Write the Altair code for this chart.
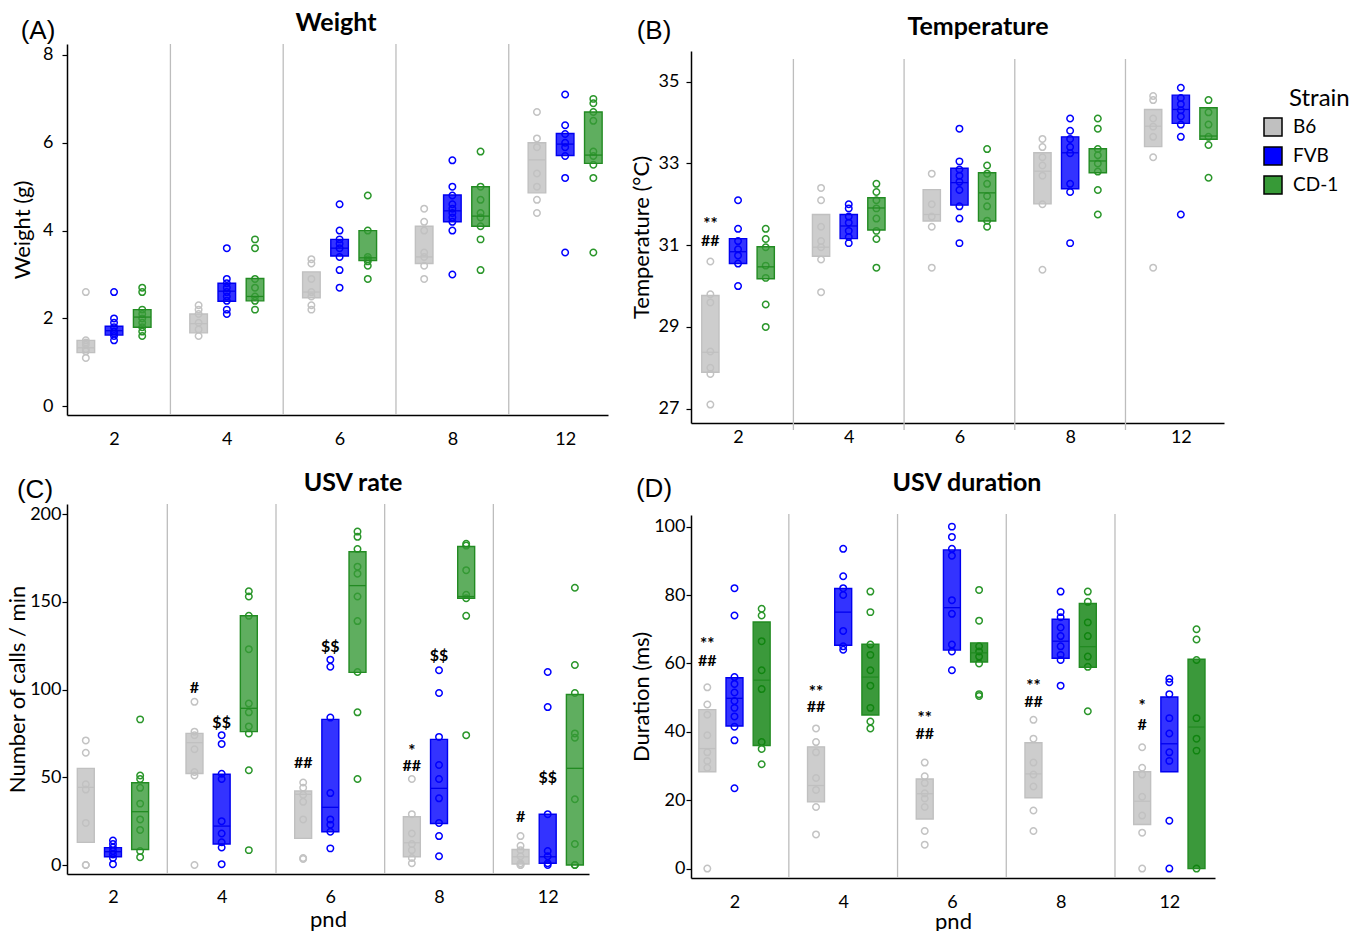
import altair as alt
import pandas as pd

pnd_labels = ["2", "4", "6", "8", "12"]
strains = ["B6", "FVB", "CD-1"]

point_colors = ["#c3c3c3", "#0000ff", "#2a962a"]
box_strokes = ["#c0c0c0", "#0000f0", "#228b22"]
box_fills_light = ["#c0c0c0", "#0000ff", "#379a37"]
box_fills_dark = ["#c0c0c0", "#0000ff", "#0a800a"]

# ---------------- Weight ----------------
w_box = {
    "B6": [(1.22, 1.33, 1.50), (1.67, 1.88, 2.10), (2.47, 2.60, 3.06), (3.25, 3.40, 4.10), (4.86, 5.61, 6.00)],
    "FVB": [(1.62, 1.72, 1.82), (2.39, 2.62, 2.80), (3.42, 3.60, 3.80), (4.20, 4.45, 4.81), (5.71, 5.97, 6.21)],
    "CD-1": [(1.80, 2.03, 2.20), (2.40, 2.50, 2.91), (3.32, 3.38, 4.00), (4.10, 4.33, 5.00), (5.53, 5.72, 6.70)],
}
w_pts = {
    "B6": [[2.6, 1.5, 1.45, 1.4, 1.3, 1.25, 1.1], [2.3, 2.2, 2.1, 1.9, 1.75, 1.6],
           [3.35, 3.25, 2.9, 2.6, 2.5, 2.3, 2.2], [4.5, 4.2, 4.0, 3.5, 3.4, 3.2, 2.9],
           [6.7, 6.1, 5.9, 5.3, 5.0, 4.7, 4.4]],
    "FVB": [[2.6, 2.0, 1.9, 1.8, 1.7, 1.65, 1.6, 1.5], [3.6, 2.9, 2.8, 2.7, 2.6, 2.5, 2.4, 2.2, 2.1],
            [4.6, 4.0, 3.8, 3.7, 3.6, 3.4, 3.1, 2.7], [5.6, 5.0, 4.8, 4.6, 4.5, 4.4, 4.3, 4.2, 4.0, 3.0],
            [7.1, 6.4, 6.2, 6.0, 5.9, 5.7, 5.2, 3.5]],
    "CD-1": [[2.7, 2.6, 2.2, 2.1, 2.0, 1.9, 1.8, 1.7, 1.6], [3.8, 3.6, 2.9, 2.7, 2.5, 2.4, 2.2],
             [4.8, 4.0, 3.4, 3.35, 3.3, 3.2, 2.9], [5.8, 5.0, 4.7, 4.4, 4.3, 4.1, 3.8, 3.1],
             [7.0, 6.9, 6.7, 6.5, 5.8, 5.7, 5.5, 5.2, 3.5]],
}

# ---------------- Temperature ----------------
t_box = {
    "B6": [(27.89, 28.38, 29.77), (30.73, 30.95, 31.75), (31.59, 31.75, 32.36), (32.01, 32.81, 33.26), (33.41, 33.91, 34.32)],
    "FVB": [(30.55, 30.84, 31.16), (31.16, 31.47, 31.75), (31.98, 32.53, 32.88), (32.38, 33.26, 33.65), (33.98, 34.32, 34.67)],
    "CD-1": [(30.18, 30.47, 30.96), (31.37, 31.91, 32.16), (31.59, 32.28, 32.77), (32.77, 33.06, 33.36), (33.59, 33.67, 34.36)],
}
t_pts = {
    "B6": [[30.6, 29.8, 29.6, 28.4, 28.0, 27.85, 27.1], [32.4, 32.1, 31.45, 31.1, 30.95, 30.65, 29.85],
           [32.75, 32.0, 31.7, 31.45, 30.45], [33.6, 33.4, 33.15, 32.95, 32.7, 32.0, 30.4],
           [34.65, 34.55, 34.1, 33.9, 33.65, 33.15, 30.45]],
    "FVB": [[32.1, 31.4, 31.1, 30.9, 30.75, 30.55, 30.0], [32.0, 31.9, 31.7, 31.55, 31.35, 31.2, 31.05],
            [33.85, 33.05, 32.85, 32.7, 32.55, 32.35, 31.95, 31.65, 31.05],
            [34.1, 33.8, 33.6, 33.4, 33.25, 32.5, 32.3, 31.05],
            [34.85, 34.6, 34.45, 34.3, 34.15, 33.95, 33.65, 31.75]],
    "CD-1": [[31.4, 31.15, 30.95, 30.5, 30.2, 29.55, 29.0], [32.5, 32.3, 32.1, 31.9, 31.65, 31.35, 31.15, 30.45],
             [33.35, 32.95, 32.75, 32.5, 32.2, 31.95, 31.6, 31.45],
             [34.1, 33.85, 33.35, 33.2, 33.0, 32.8, 32.35, 31.75],
             [34.55, 34.25, 33.95, 33.65, 33.45, 32.65]],
}
t_ann_pnd = [1, 1]
t_ann_strain = [0, 0]
t_ann_y = [31.59, 31.1]
t_ann_text = ["**", "##"]

# ---------------- USV rate ----------------
r_box = {
    "B6": [(12.9, 44.3, 55.1), (52.2, 69.7, 75.0), (15.2, 40.3, 42.2), (4.7, 12.7, 27.5), (0.6, 4.7, 8.9)],
    "FVB": [(4.7, 7.6, 9.9), (12.0, 22.2, 51.7), (19.0, 32.9, 83.0), (23.7, 43.7, 71.6), (1.0, 4.7, 28.9)],
    "CD-1": [(8.9, 30.4, 46.9), (76.0, 89.3, 142.0), (109.8, 159.2, 178.5), (152.0, 153.0, 181.5), (0.0, 55.1, 97.2)],
}
r_pts = {
    "B6": [[71, 64, 46, 43, 24, 0, 0], [93, 76, 74, 66, 53, 51, 0], [47, 44, 40, 36, 26, 4, 3.5],
           [49, 29, 18, 12, 8.5, 4, 1], [16.5, 11, 8.5, 5, 1, 0, 0]],
    "FVB": [[14, 12, 10, 8, 6, 4, 0.5], [74, 69, 52, 49, 25, 18, 13, 10, 0.5], [117, 113, 84, 41, 26, 23, 19, 9.5],
            [111, 98, 73, 57, 49, 38, 24, 16.5, 5], [110, 90, 29, 8, 5, 1, 0]],
    "CD-1": [[83, 51, 49, 44, 35, 26, 20, 8, 4.5], [156, 153, 142, 123, 92, 87, 79, 75, 54, 8.5],
             [190, 187, 180, 170, 166, 153, 139, 110, 87, 49], [183, 182, 168, 154, 152, 142, 74],
             [158, 114, 98, 75, 72.5, 37.5, 12, 0, 0]],
}
r_ann_pnd = [2, 2, 3, 3, 4, 4, 4, 5, 5]
r_ann_strain = [0, 1, 0, 1, 0, 0, 1, 0, 1]
r_ann_y = [100.7, 81.1, 58.0, 124.0, 66.5, 56.4, 119.0, 27.5, 49.4]
r_ann_text = ["#", "$$", "##", "$$", "*", "##", "$$", "#", "$$"]

# ---------------- USV duration ----------------
d_box = {
    "B6": [(28.3, 35.1, 46.5), (19.5, 24.3, 35.6), (14.5, 21.9, 26.2), (20.7, 27.7, 36.8), (12.9, 19.7, 28.3)],
    "FVB": [(41.7, 49.8, 55.8), (65.3, 75.0, 81.9), (63.9, 76.3, 93.2), (61.5, 66.5, 72.9), (28.3, 36.5, 50.2)],
    "CD-1": [(36.0, 55.1, 72.1), (44.9, 56.0, 65.6), (60.4, 63.1, 66.0), (58.9, 64.9, 77.5), (0.0, 41.4, 61.2)],
}
d_pts = {
    "B6": [[53, 48, 45, 39, 34, 31.5, 29.5, 0], [41, 37, 34, 26.5, 23, 18, 10], [31, 27, 25, 22, 20.5, 18, 11, 7],
           [43.5, 38, 31, 27.5, 24, 17, 11], [35.5, 29.5, 27.5, 21, 15.5, 10.5, 0]],
    "FVB": [[82, 74, 56, 54, 51.5, 49, 47, 44.5, 41.5, 37.5, 23.5], [93.5, 85.5, 82, 80, 69.5, 65, 64],
            [100, 97, 93.5, 91.5, 78.5, 74.5, 65.5, 63.5, 58], [81, 75, 73.5, 70.5, 68, 65, 62.5, 61, 53.5],
            [55.5, 54.5, 51, 44, 39.5, 34, 31.5, 14, 0]],
    "CD-1": [[76, 74, 66.5, 58, 52.5, 37, 35, 30.5], [81, 75, 65.5, 62.5, 58, 53.5, 47, 43, 41],
             [81.5, 72.5, 65, 63.5, 62, 60, 51, 50.5], [81, 78, 72, 68, 62, 59, 46],
             [70, 67, 61, 44, 38, 34.5, 0]],
}
d_ann_pnd = [1, 1, 2, 2, 3, 3, 4, 4, 5, 5]
d_ann_strain = [0] * 10
d_ann_y = [66.5, 60.7, 52.6, 47.2, 44.9, 39.4, 54.3, 48.8, 48.3, 42.1]
d_ann_text = ["**", "##", "**", "##", "**", "##", "**", "##", "*", "#"]

dividers = [1.5, 2.5, 3.5, 4.5]

FONT = "Lato"
LETTER_FONT = "Liberation Sans"
label_expr = "[" + ",".join("'%s'" % s for s in pnd_labels) + "][datum.value - 1]"


def frames(pts, box, ann=None):
    prow, brow = [], []
    for si, s in enumerate(strains):
        for pi in range(5):
            for v in pts[s][pi]:
                prow.append({"strain": s, "si": si, "pi": pi + 1, "value": v})
            lo, mid, hi = box[s][pi]
            brow.append({"strain": s, "si": si, "pi": pi + 1, "lo": lo, "mid": mid, "hi": hi})
    arow = []
    if ann:
        for p, s, y, t in zip(*ann):
            arow.append({"pi": p, "si": s, "yv": y, "label": t})
    return pd.DataFrame(prow), pd.DataFrame(brow), pd.DataFrame(arow)


def label_layer(text, x, y, size, weight="normal", font=FONT, align="center"):
    return alt.Chart(pd.DataFrame({"t": [text]})).mark_text(
        font=font, fontSize=size, fontWeight=weight, color="black", align=align, baseline="middle"
    ).encode(x=alt.value(x), y=alt.value(y), text="t:N")


def panel(cfg):
    pdf, bdf, adf = frames(cfg["pts"], cfg["box"], cfg.get("ann"))
    xs = alt.Scale(domain=cfg["xdom"], nice=False, zero=False)
    if "ytop" in cfg:
        ys = alt.Scale(domain=cfg["ydom"], nice=False, zero=False, range=[cfg["h"], cfg["ytop"]])
    else:
        ys = alt.Scale(domain=cfg["ydom"], nice=False, zero=False)
    xaxis = alt.Axis(values=[1, 2, 3, 4, 5], labelExpr=label_expr, ticks=False, tickSize=0, grid=False,
                     domainColor="black", domainWidth=1.5, labelFont=FONT, labelFontSize=18,
                     labelColor="black", labelPadding=cfg["xlabpad"], labelAngle=0, labelFlush=False,
                     titleFont=FONT, titleFontSize=22, titleFontWeight="normal", titleColor="black",
                     titlePadding=cfg.get("xtitlepad", 2))
    yaxis = alt.Axis(values=cfg["yticks"], grid=False, ticks=True, tickSize=5, tickColor="black",
                     tickWidth=1.2, domainColor="black", domainWidth=1.5, labelFont=FONT,
                     labelFontSize=18, labelColor="black", labelPadding=cfg["ylabpad"],
                     titleFont=FONT, titleFontSize=22, titleFontWeight="normal", titleColor="black",
                     titlePadding=cfg["ytitlepad"])
    xt = cfg.get("xtitle")

    def X(field):
        return alt.X(field, scale=xs, axis=xaxis, title=xt)

    def Y(field):
        return alt.Y(field, scale=ys, axis=yaxis, title=cfg["ytitle"])

    pos = "datum.pi + (datum.si - 1) * 0.25"
    hw = 0.078

    div_enc = dict(x=X("d:Q"))
    if "divy" in cfg:
        div_enc.update(y=alt.value(cfg["divy"][0]), y2=alt.value(cfg["divy"][1]))
    div = alt.Chart(pd.DataFrame({"d": dividers})).mark_rule(color="#bdbdbd", strokeWidth=1.3).encode(**div_enc)

    pts = alt.Chart(pdf).transform_calculate(xpos=pos).mark_point(
        shape="circle", filled=False, size=42, strokeWidth=1.5, opacity=1
    ).encode(
        x=X("xpos:Q"), y=Y("value:Q"),
        color=alt.Color("strain:N", scale=alt.Scale(domain=strains, range=point_colors), legend=None),
    )

    fill_scale = alt.Scale(domain=strains, range=cfg["fills"])
    stroke_enc = alt.Stroke("strain:N", scale=alt.Scale(domain=strains, range=box_strokes), legend=None)

    boxes = alt.Chart(bdf).transform_calculate(
        xl=pos + " - %f" % hw, xr=pos + " + %f" % hw
    ).mark_rect(fillOpacity=0.8, strokeWidth=1.4).encode(
        x=X("xl:Q"), x2="xr:Q", y=Y("lo:Q"), y2="hi:Q",
        fill=alt.Fill("strain:N", scale=fill_scale, legend=None), stroke=stroke_enc,
    )
    med = alt.Chart(bdf).transform_calculate(
        xl=pos + " - %f" % hw, xr=pos + " + %f" % hw
    ).mark_rule(strokeWidth=1.3).encode(
        x=X("xl:Q"), x2="xr:Q", y=Y("mid:Q"), stroke=stroke_enc,
    )
    layers = [div, pts, boxes, med]
    if len(adf):
        base = alt.Chart(adf).transform_calculate(xpos=pos)
        stars = base.transform_filter("indexof(datum.label, '*') >= 0").mark_text(
            font=FONT, fontWeight="bold", fontSize=17, color="black", baseline="middle", align="center", dy=4
        ).encode(x=X("xpos:Q"), y=Y("yv:Q"), text="label:N")
        others = base.transform_filter("indexof(datum.label, '*') < 0").mark_text(
            font=FONT, fontWeight="bold", fontSize=16, color="black", baseline="middle", align="center"
        ).encode(x=X("xpos:Q"), y=Y("yv:Q"), text="label:N")
        layers += [stars, others]
    if cfg.get("legend"):
        leg = alt.Legend(title=None, orient="none", legendX=cfg["legx"], legendY=cfg["legy"],
                         symbolType="square", symbolSize=324, symbolStrokeColor="black",
                         symbolStrokeWidth=1.5, labelFont=FONT, labelFontSize=19,
                         labelColor="black", rowPadding=5, labelOffset=10, padding=0)
        legend_layer = alt.Chart(bdf).transform_filter("datum.lo < -1000").mark_square(
            filled=True, stroke="black", strokeWidth=1.5, fillOpacity=0.85, size=324
        ).encode(
            x=X("pi:Q"), y=Y("mid:Q"),
            fill=alt.Fill("strain:N", scale=fill_scale, legend=leg),
        )
        layers.append(legend_layer)
        layers.append(label_layer("Strain", cfg["stx"], cfg["sty"], 24, align="left"))
    layers.append(label_layer(cfg["title"], cfg["tx"], cfg["ty"], 25, weight="bold"))
    layers.append(label_layer(cfg["letter"], cfg["ldx"], cfg["ldy"], 26, font=LETTER_FONT))

    return alt.layer(*layers).properties(width=cfg["w"], height=cfg["h"]).resolve_scale(
        color="independent", fill="independent", stroke="independent")


A = panel(dict(pts=w_pts, box=w_box, xdom=[0.583, 5.38], ydom=[-0.2, 8.25], yticks=[0, 2, 4, 6, 8],
               ytitle="Weight (g)", w=541, h=371, xlabpad=15, ylabpad=9, ytitlepad=8,
               title="Weight", tx=269, ty=-21, letter="(A)", ldx=-29, ldy=-13, fills=box_fills_light))
B = panel(dict(pts=t_pts, box=t_box, ann=(t_ann_pnd, t_ann_strain, t_ann_y, t_ann_text),
               xdom=[0.575, 5.39], ydom=[26.65, 35.75], yticks=[27, 29, 31, 33, 35], ytop=7,
               ytitle="Temperature (°C)", w=533, h=379, xlabpad=5, ylabpad=7, ytitlepad=5,
               title="Temperature", tx=287, ty=-17, letter="(B)", ldx=-37, ldy=-13, divy=(15, 386),
               legend=True, legx=572, legy=73, stx=598, sty=55, fills=box_fills_light))
C = panel(dict(pts=r_pts, box=r_box, ann=(r_ann_pnd, r_ann_strain, r_ann_y, r_ann_text),
               xdom=[0.577, 5.38], ydom=[-5.1, 205.7], yticks=[0, 50, 100, 150, 200],
               ytitle="Number of calls / min", xtitle="pnd", w=522, h=370, xlabpad=14, xtitlepad=3,
               ylabpad=1, ytitlepad=0, title="USV rate", tx=286, ty=-21, letter="(C)", ldx=-32, ldy=-14,
               fills=box_fills_light))
D = panel(dict(pts=d_pts, box=d_box, ann=(d_ann_pnd, d_ann_strain, d_ann_y, d_ann_text),
               xdom=[0.6, 5.42], ydom=[-2.75, 103.4], yticks=[0, 20, 40, 60, 80, 100], ytop=10,
               ytitle="Duration (ms)", xtitle="pnd", w=524, h=373, xlabpad=15, xtitlepad=0,
               ylabpad=1, ytitlepad=0, title="USV duration", tx=276, ty=-22, letter="(D)", ldx=-37, ldy=-16,
               divy=(9, 373), fills=box_fills_dark))

res = dict(x="independent", y="independent", color="independent", fill="independent", stroke="independent")
col1 = alt.vconcat(A, C, spacing=23).resolve_scale(**res)
col2 = alt.vconcat(B, D, spacing=25).resolve_scale(**res)
chart = alt.hconcat(col1, col2, spacing=22).resolve_scale(**res).properties(
    padding={"left": -2, "top": 3, "right": 5, "bottom": 0}, background="white"
).configure_view(strokeWidth=0)

chart.save("out.html", embed_options={"renderer": "svg", "actions": False})
